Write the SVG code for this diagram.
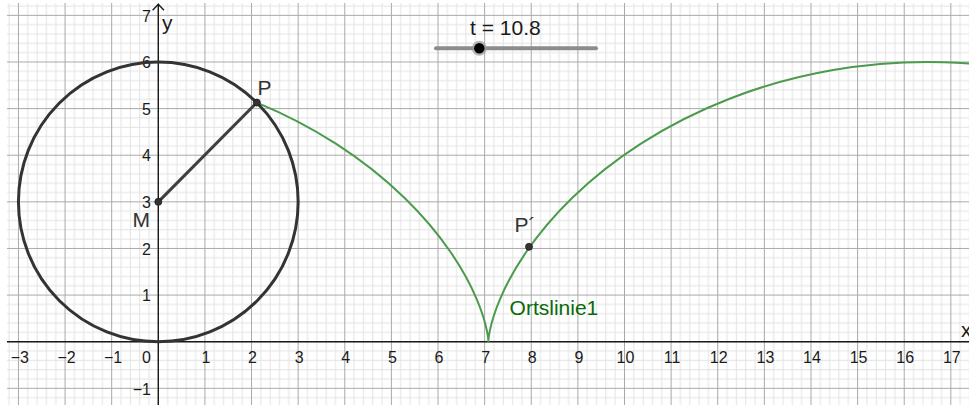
<svg xmlns="http://www.w3.org/2000/svg" width="969" height="405" viewBox="0 0 969 405">
  <style>
    .num { font-family: "Liberation Sans", Arial, sans-serif; font-size: 16px; fill: #1a1a1a; }
    .xn { text-anchor: middle; }
    .yn { text-anchor: end; }
    .lbl { font-family: "Liberation Sans", Arial, sans-serif; font-size: 21px; fill: #333333; }
    .axis { stroke: #1a1a1a; stroke-width: 1.4; fill: none; }
    .pt { fill: #333333; stroke: #1a1a1a; stroke-width: 0.8; }
  </style>
  <defs>
    <pattern id="grid" patternUnits="userSpaceOnUse" x="157.8" y="341.2" width="46.62" height="46.62">
      <g fill="#e3e3e3">
        <rect x="9.324" y="0" width="1" height="46.62"/>
        <rect x="18.648" y="0" width="1" height="46.62"/>
        <rect x="27.972" y="0" width="1" height="46.62"/>
        <rect x="37.296" y="0" width="1" height="46.62"/>
        <rect x="0" y="9.324" width="46.62" height="1"/>
        <rect x="0" y="18.648" width="46.62" height="1"/>
        <rect x="0" y="27.972" width="46.62" height="1"/>
        <rect x="0" y="37.296" width="46.62" height="1"/>
      </g>
      <g fill="#a9a9a9">
        <rect x="0" y="0" width="1" height="46.62"/>
        <rect x="0" y="0" width="46.62" height="1"/>
      </g>
    </pattern>
  </defs>

  <rect width="969" height="405" fill="#ffffff"/>
  <g id="grid-area">
    <rect x="7" y="3" width="962" height="402" fill="url(#grid)"/>
  </g>

  <g id="axes">
    <line class="axis" x1="7" y1="341.7" x2="969" y2="341.7"/>
    <line class="axis" x1="158.3" y1="4" x2="158.3" y2="405"/>
    <path class="axis" d="M152.6 10.2 L158.3 4.3 L164 10.2" stroke-width="1.2"/>
    <text class="lbl" x="961" y="337" font-size="19" style="fill:#1a1a1a">x</text>
    <text class="lbl" x="162" y="30" font-size="19" style="fill:#1a1a1a">y</text>
    <g class="num xn">
      <text x="19.9" y="363.3">−3</text>
      <text x="66.5" y="363.3">−2</text>
      <text x="113.1" y="363.3">−1</text>
      <text x="205.9" y="363.3">1</text>
      <text x="252.5" y="363.3">2</text>
      <text x="299.2" y="363.3">3</text>
      <text x="345.8" y="363.3">4</text>
      <text x="392.4" y="363.3">5</text>
      <text x="439" y="363.3">6</text>
      <text x="485.6" y="363.3">7</text>
      <text x="532.3" y="363.3">8</text>
      <text x="578.9" y="363.3">9</text>
      <text x="625.5" y="363.3">10</text>
      <text x="672.1" y="363.3">11</text>
      <text x="718.7" y="363.3">12</text>
      <text x="765.4" y="363.3">13</text>
      <text x="812" y="363.3">14</text>
      <text x="858.6" y="363.3">15</text>
      <text x="905.2" y="363.3">16</text>
      <text x="951.8" y="363.3">17</text>
    </g>
    <g class="num yn">
      <text x="151" y="363.3">0</text>
      <text x="151" y="394.5">−1</text>
      <text x="151" y="301.3">1</text>
      <text x="151" y="254.6">2</text>
      <text x="151" y="208">3</text>
      <text x="151" y="161.4">4</text>
      <text x="151" y="114.8">5</text>
      <text x="151" y="68.2">6</text>
      <text x="151" y="21.5">7</text>
    </g>
  </g>

  <g id="locus">
    <path fill="none" stroke="#4c9a4c" stroke-width="2" stroke-linejoin="round"
      d="M256.82 102.58
         C285.51 114.40 312.05 128.38 335.82 143.64
         C362.23 160.60 385.20 179.12 404.39 197.76
         C423.58 216.40 439.00 235.14 450.89 252.52
         C462.78 269.90 471.15 285.90 476.81 299.28
         C482.47 312.66 485.42 323.40 486.89 330.66
         C488.36 337.92 488.37 341.70 488.37 341.70
         C488.37 341.70 488.38 337.92 489.85 330.66
         C491.32 323.40 494.27 312.66 499.93 299.28
         C505.59 285.90 513.96 269.90 525.85 252.52
         C537.74 235.14 553.16 216.40 572.35 197.76
         C591.54 179.12 614.51 160.60 640.92 143.64
         C667.33 126.68 697.16 111.31 729.56 98.71
         C761.96 86.11 796.91 76.31 833.13 70.06
         C869.35 63.81 906.83 61.13 944.09 62.22
         C962.72 62.76 981.29 64.24 999.63 66.62"/>
    <text class="lbl" x="509.6" y="315" style="fill:#0a6a0a">Ortslinie1</text>
  </g>

  <g id="circle">
    <circle cx="158.3" cy="201.84" r="139.86" fill="none" stroke="#333333" stroke-width="3"/>
  </g>

  <g id="connectors">
    <line x1="158.3" y1="201.84" x2="256.82" y2="102.58" stroke="#404040" stroke-width="3" stroke-linecap="round"/>
  </g>

  <g id="point-M">
    <circle class="pt" cx="158.3" cy="201.84" r="3.5"/>
    <text class="lbl" x="132.5" y="227.3">M</text>
  </g>
  <g id="point-P">
    <circle class="pt" cx="256.82" cy="102.58" r="3.5"/>
    <text class="lbl" x="257.5" y="94.5">P</text>
  </g>
  <g id="point-P2">
    <circle class="pt" cx="529" cy="246.8" r="3.5"/>
    <text class="lbl" x="514.5" y="231.5">P´</text>
  </g>

  <g id="slider">
    <line x1="436" y1="48.3" x2="596" y2="48.3" stroke="#8c8c8c" stroke-width="4" stroke-linecap="round"/>
    <circle cx="479.3" cy="48.2" r="7.5" fill="#9a9a9a" fill-opacity="0.7"/>
    <circle cx="479.3" cy="48.2" r="5.2" fill="#000000"/>
    <text class="lbl" x="470" y="35" style="fill:#1a1a1a">t = 10.8</text>
  </g>
</svg>
